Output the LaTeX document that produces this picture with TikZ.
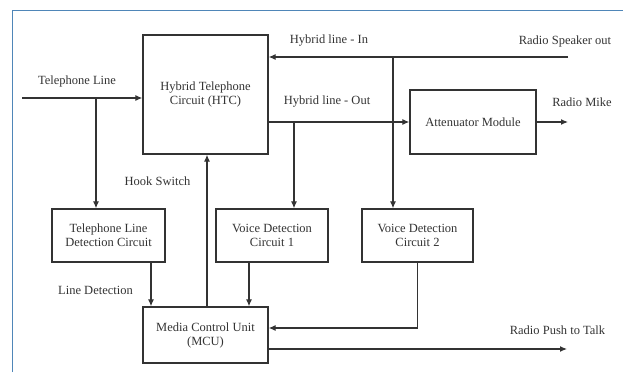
\documentclass[tikz,border=0pt]{standalone}
\usepackage{fontspec}
\setmainfont{Liberation Serif}
\usetikzlibrary{arrows.meta}
\definecolor{ink}{HTML}{333333}
\definecolor{frame}{HTML}{4F86B8}
\begin{document}
\begin{tikzpicture}[x=1pt,y=-1pt,
  blk/.style={draw=ink,line width=1.3pt,rectangle,inner sep=0pt,align=center,text=ink,
    font=\fontsize{12.5}{14}\selectfont},
  lbl/.style={text=ink,inner sep=0pt,font=\fontsize{12.5}{14}\selectfont},
  wire/.style={draw=ink,line width=1.2pt},
  arr/.style={wire,-{Latex[length=7pt,width=6pt]}}]
\useasboundingbox (0,0) rectangle (623,372);
\fill[white] (0,0) rectangle (623,372);
\draw[frame,line width=1pt] (12,372) -- (12,10) -- (623,10);

\node[blk,minimum width=125pt,minimum height=119pt] (htc) at (205.5,94.5) {Hybrid Telephone\\Circuit (HTC)};
\node[blk,minimum width=126pt,minimum height=64pt] (att) at (473,122) {Attenuator Module};
\node[blk,minimum width=113pt,minimum height=53pt] (tldc) at (108.5,235.5) {Telephone Line\\Detection Circuit};
\node[blk,minimum width=112pt,minimum height=53pt] (vdc1) at (272,235.5) {Voice Detection\\Circuit 1};
\node[blk,minimum width=111pt,minimum height=53pt] (vdc2) at (417.5,235.5) {Voice Detection\\Circuit 2};
\node[blk,minimum width=125pt,minimum height=56pt] (mcu) at (205.5,335) {Media Control Unit\\(MCU)};

\coordinate (tl) at (22,98);
\coordinate (j1) at (96,98);
\coordinate (rso) at (568,57);
\coordinate (j2) at (393,57);
\coordinate (ho) at (268,122);
\coordinate (j3) at (294,122);
\coordinate (rm) at (568,122);
\coordinate (hs) at (207,0);
\coordinate (ld) at (151,0);
\coordinate (v1) at (249,0);
\coordinate (v2y) at (0,328);
\coordinate (pty) at (0,349);
\coordinate (ptt) at (567,349);

\draw[arr] (tl) -- (tl -| htc.west);
\draw[arr] (j1) -- (j1 |- tldc.north);
\draw[arr] (rso) -- (rso -| htc.east);
\draw[arr] (j2) -- (j2 |- vdc2.north);
\draw[arr] (ho -| htc.east) -- (att.west);
\draw[arr] (j3) -- (j3 |- vdc1.north);
\draw[arr] (att.east) -- (rm);
\draw[arr] (hs |- mcu.north) -- (hs |- htc.south);
\draw[arr] (ld |- tldc.south) -- (ld |- mcu.north);
\draw[arr] (v1 |- vdc1.south) -- (v1 |- mcu.north);
\draw[arr] (vdc2.south) |- (v2y -| mcu.east);
\draw[arr] (pty -| mcu.east) -- (ptt);

\node[lbl] (l1) at (77,81) {Telephone Line};
\node[lbl] (l2) at (329,41) {Hybrid line - In};
\node[lbl] (l3) at (565,41) {Radio Speaker out};
\node[lbl] (l4) at (327,102) {Hybrid line - Out};
\node[lbl] (l5) at (582,102) {Radio Mike};
\node[lbl] (l6) at (157.5,181) {Hook Switch};
\node[lbl] (l7) at (95.5,290) {Line Detection};
\node[lbl] (l8) at (557.5,330) {Radio Push to Talk};
\end{tikzpicture}
\end{document}
